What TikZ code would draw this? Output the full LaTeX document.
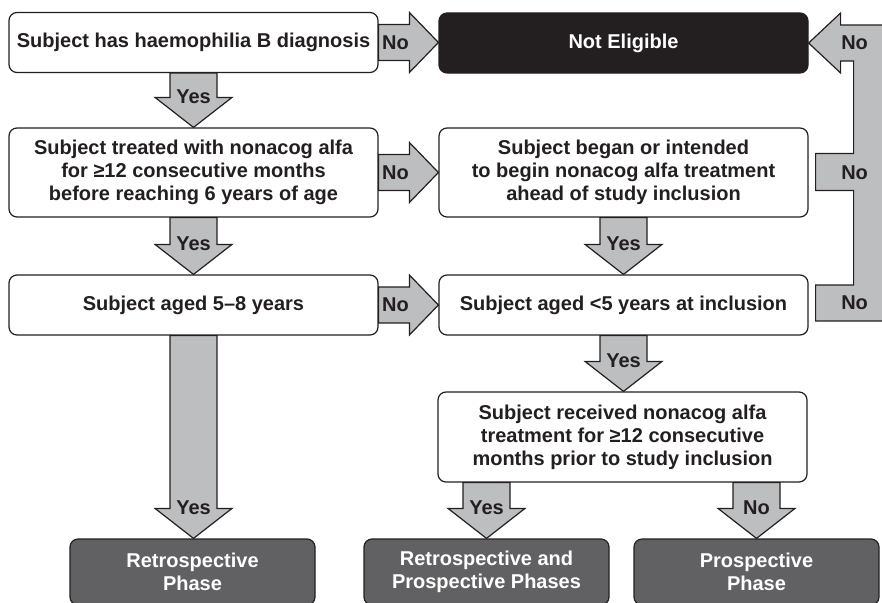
\documentclass[tikz,border=0pt]{standalone}
\usepackage{fontspec}
\setmainfont{Liberation Sans}
\usetikzlibrary{calc}

\definecolor{inkdark}{HTML}{231F20}
\definecolor{arrowgray}{HTML}{BCBEC0}
\definecolor{phasegray}{HTML}{616163}

\newcommand{\downblock}[3]{%
  \draw[blockarrow] let \p1=(#1), \p2=(#2) in
    (\x1-23.5pt,\y1) -- (\x1+23.5pt,\y1) -- (\x1+23.5pt,\y2+30pt) -- (\x1+38.5pt,\y2+30pt)
    -- (\x1,\y2) -- (\x1-38.5pt,\y2+30pt) -- (\x1-23.5pt,\y2+30pt) -- cycle
    (\x1,\y2+31pt) node[arrowtext] {#3};}
\newcommand{\rightblock}[3]{%
  \draw[blockarrow] let \p1=(#1), \p2=(#2) in
    (\x1,\y1+18pt) -- (\x2-29pt,\y1+18pt) -- (\x2-29pt,\y1+30pt) -- (\x2,\y1)
    -- (\x2-29pt,\y1-30pt) -- (\x2-29pt,\y1-18pt) -- (\x1,\y1-18pt) -- cycle
    (\x2-43pt,\y1) node[arrowtext] {#3};}

\begin{document}
\begin{tikzpicture}[x=1pt, y=-1pt,
  box/.style = {draw=inkdark, line width=1.2pt, rounded corners=8pt, fill=white, text=inkdark,
    align=center, inner sep=0pt, minimum width=369pt, minimum height=60pt,
    font=\fontsize{20}{23}\selectfont\bfseries},
  phase/.style = {box, fill=phasegray, text=white, minimum width=245pt, minimum height=66pt},
  blockarrow/.style = {draw=inkdark, line width=1.2pt, fill=arrowgray, line join=miter},
  arrowtext/.style = {text=inkdark, inner sep=0pt, font=\fontsize{20}{23}\selectfont\bfseries}]

\useasboundingbox (0,0) rectangle (882,602);

\node[box] (diag) at (193.5,42.5) {Subject has haemophilia B diagnosis};
\node[box, fill=inkdark, text=white] (noelig) at (623.5,43) {Not Eligible};
\node[box, minimum height=89pt] (treated) at (193.5,172.5) {Subject treated with nonacog alfa\\for ≥12 consecutive months\\before reaching 6 years of age};
\node[box, minimum height=89pt] (began) at (623.5,172.5) {Subject began or intended\\to begin nonacog alfa treatment\\ahead of study inclusion};
\node[box] (age58) at (193.5,305) {Subject aged 5–8 years};
\node[box] (age5) at (623.5,305) {Subject aged <5 years at inclusion};
\node[box, minimum height=90pt] (received) at (622.5,437) {Subject received nonacog alfa\\treatment for ≥12 consecutive\\months prior to study inclusion};
\node[phase] (retro) at (192.5,572) {Retrospective\\Phase};
\node[phase] (both) at (486.5,572) {Retrospective and\\Prospective Phases};
\node[phase] (prosp) at (756.5,572) {Prospective\\Phase};

\rightblock{diag.east}{noelig.west}{No}
\rightblock{treated.east}{began.west}{No}
\rightblock{age58.east}{age5.west}{No}
\downblock{diag.south}{treated.north}{Yes}
\downblock{treated.south}{age58.north}{Yes}
\downblock{began.south}{age5.north}{Yes}
\downblock{age5.south}{received.north}{Yes}
\downblock{age58.south}{retro.north}{Yes}
\downblock{received.south -| both.north}{both.north}{Yes}
\downblock{received.south -| prosp.north}{prosp.north}{No}

\draw[blockarrow] let \p1=(noelig.east), \p2=(began.east), \p3=(age5.east) in
  (\x1,\y1) -- (\x1+32pt,\y1+30pt) -- (\x1+32pt,\y1+18pt) -- (\x1+86pt,\y1+18pt)
  -- (\x1+86pt,\y3-16pt) -- (\x3+7pt,\y3-16pt) -- (\x3+7pt,\y3+20pt) -- (\x1+45pt,\y3+20pt)
  -- (\x1+45pt,\y2-18pt) -- (\x2+7pt,\y2-18pt) -- (\x2+7pt,\y2+19pt) -- (\x1+45pt,\y2+19pt)
  -- (\x1+45pt,\y1-18pt) -- (\x1+32pt,\y1-18pt) -- (\x1+32pt,\y1-30pt) -- cycle
  (\x1+46pt,\y1) node[arrowtext] {No}
  (\x1+46pt,\y2) node[arrowtext] {No}
  (\x1+46pt,\y3+2pt) node[arrowtext] {No};

\end{tikzpicture}
\end{document}
